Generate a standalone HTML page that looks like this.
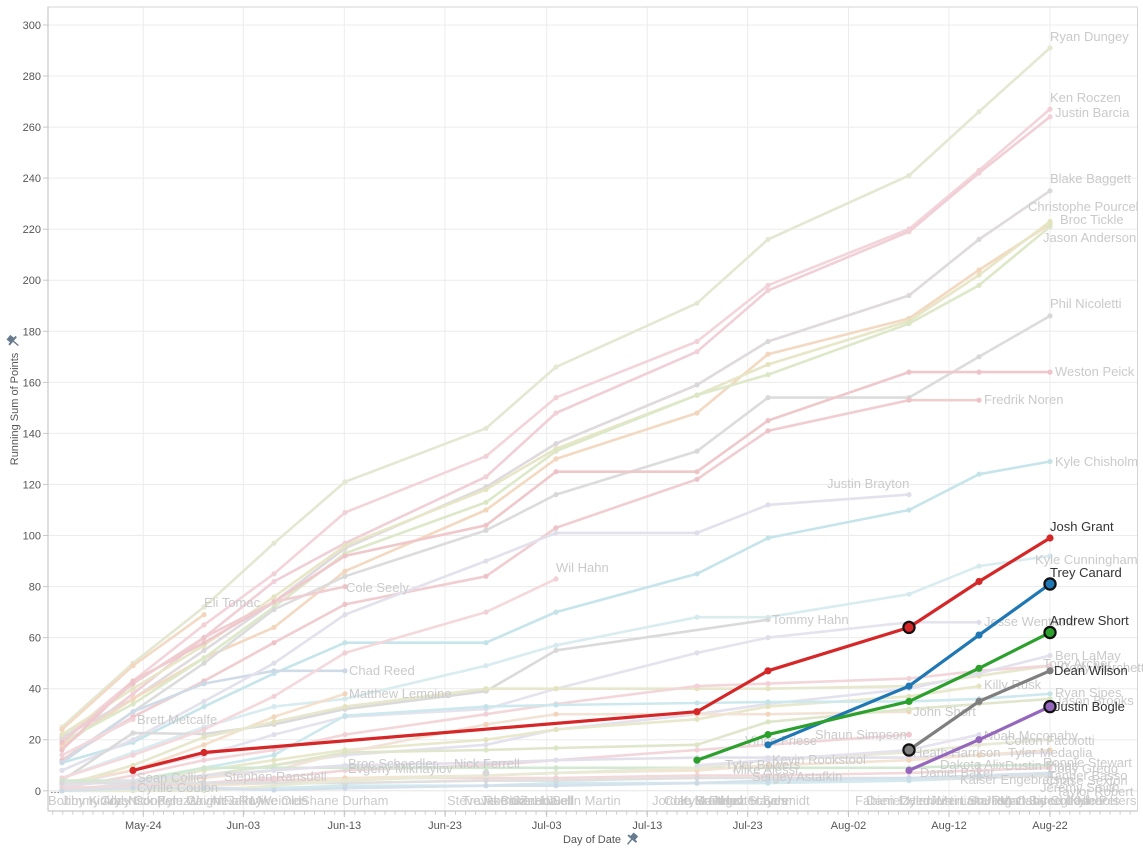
<!DOCTYPE html>
<html><head><meta charset="utf-8">
<style>
html,body{margin:0;padding:0;background:#fff;}
svg{display:block;font-family:"Liberation Sans",Arial,sans-serif;}
.f{fill:none;stroke-width:2.6;stroke-linejoin:round;stroke-linecap:round;}
.h{fill:none;stroke-width:3.2;stroke-linejoin:round;stroke-linecap:round;}
.fl{font-size:13px;fill:#cacaca;}
.hl{font-size:13px;fill:#333;}
.tk{font-size:11px;fill:#555;}
</style></head>
<body>
<svg width="1143" height="849" viewBox="0 0 1143 849" xmlns="http://www.w3.org/2000/svg">
<defs>
<marker id="m1" viewBox="0 0 6 6" refX="3" refY="3" markerWidth="6" markerHeight="6" markerUnits="userSpaceOnUse"><circle cx="3" cy="3" r="2.6" fill="#e4e8d2"/></marker>
<marker id="m2" viewBox="0 0 6 6" refX="3" refY="3" markerWidth="6" markerHeight="6" markerUnits="userSpaceOnUse"><circle cx="3" cy="3" r="2.6" fill="#f1d0d7"/></marker>
<marker id="m3" viewBox="0 0 6 6" refX="3" refY="3" markerWidth="6" markerHeight="6" markerUnits="userSpaceOnUse"><circle cx="3" cy="3" r="2.6" fill="#dcd7db"/></marker>
<marker id="m4" viewBox="0 0 6 6" refX="3" refY="3" markerWidth="6" markerHeight="6" markerUnits="userSpaceOnUse"><circle cx="3" cy="3" r="2.6" fill="#f2d5bb"/></marker>
<marker id="m5" viewBox="0 0 6 6" refX="3" refY="3" markerWidth="6" markerHeight="6" markerUnits="userSpaceOnUse"><circle cx="3" cy="3" r="2.6" fill="#e4e3bf"/></marker>
<marker id="m6" viewBox="0 0 6 6" refX="3" refY="3" markerWidth="6" markerHeight="6" markerUnits="userSpaceOnUse"><circle cx="3" cy="3" r="2.6" fill="#dae6c4"/></marker>
<marker id="m7" viewBox="0 0 6 6" refX="3" refY="3" markerWidth="6" markerHeight="6" markerUnits="userSpaceOnUse"><circle cx="3" cy="3" r="2.6" fill="#d8d8d8"/></marker>
<marker id="m8" viewBox="0 0 6 6" refX="3" refY="3" markerWidth="6" markerHeight="6" markerUnits="userSpaceOnUse"><circle cx="3" cy="3" r="2.6" fill="#edc3c7"/></marker>
<marker id="m9" viewBox="0 0 6 6" refX="3" refY="3" markerWidth="6" markerHeight="6" markerUnits="userSpaceOnUse"><circle cx="3" cy="3" r="2.6" fill="#c3e3e9"/></marker>
<marker id="m10" viewBox="0 0 6 6" refX="3" refY="3" markerWidth="6" markerHeight="6" markerUnits="userSpaceOnUse"><circle cx="3" cy="3" r="2.6" fill="#cbd9e7"/></marker>
<marker id="m11" viewBox="0 0 6 6" refX="3" refY="3" markerWidth="6" markerHeight="6" markerUnits="userSpaceOnUse"><circle cx="3" cy="3" r="2.6" fill="#e0deea"/></marker>
<marker id="m12" viewBox="0 0 6 6" refX="3" refY="3" markerWidth="6" markerHeight="6" markerUnits="userSpaceOnUse"><circle cx="3" cy="3" r="2.6" fill="#d5eaee"/></marker>
<marker id="m13" viewBox="0 0 6 6" refX="3" refY="3" markerWidth="6" markerHeight="6" markerUnits="userSpaceOnUse"><circle cx="3" cy="3" r="2.6" fill="#cfe5cd"/></marker>
</defs>

<rect x="0" y="0" width="1143" height="849" fill="#fff"/>

<!-- gridlines -->
<g stroke="#ececec" stroke-width="1">
<line x1="48" y1="739.7" x2="1137" y2="739.7"/>
<line x1="48" y1="688.7" x2="1137" y2="688.7"/>
<line x1="48" y1="637.6" x2="1137" y2="637.6"/>
<line x1="48" y1="586.6" x2="1137" y2="586.6"/>
<line x1="48" y1="535.5" x2="1137" y2="535.5"/>
<line x1="48" y1="484.4" x2="1137" y2="484.4"/>
<line x1="48" y1="433.4" x2="1137" y2="433.4"/>
<line x1="48" y1="382.4" x2="1137" y2="382.4"/>
<line x1="48" y1="331.3" x2="1137" y2="331.3"/>
<line x1="48" y1="280.2" x2="1137" y2="280.2"/>
<line x1="48" y1="229.2" x2="1137" y2="229.2"/>
<line x1="48" y1="178.1" x2="1137" y2="178.1"/>
<line x1="48" y1="127.1" x2="1137" y2="127.1"/>
<line x1="48" y1="76" x2="1137" y2="76"/>
<line x1="48" y1="25" x2="1137" y2="25"/>
<line x1="143.3" y1="7" x2="143.3" y2="811"/>
<line x1="243.3" y1="7" x2="243.3" y2="811"/>
<line x1="344.3" y1="7" x2="344.3" y2="811"/>
<line x1="445" y1="7" x2="445" y2="811"/>
<line x1="546.7" y1="7" x2="546.7" y2="811"/>
<line x1="647.3" y1="7" x2="647.3" y2="811"/>
<line x1="747.7" y1="7" x2="747.7" y2="811"/>
<line x1="848.5" y1="7" x2="848.5" y2="811"/>
<line x1="949" y1="7" x2="949" y2="811"/>
<line x1="1050" y1="7" x2="1050" y2="811"/>
</g>
<line x1="48" y1="790.8" x2="1137" y2="790.8" stroke="#e6e6e6" stroke-width="1"/>

<!-- faded series -->
<g class="fades">
<polyline class="f" stroke="#e4e8d2" marker-start="url(#m1)" marker-mid="url(#m1)" marker-end="url(#m1)" points="62,727 133,663.2 204,607 274,543.2 345,481.9 486,428.3 556,367 697,303.2 768,239.4 909,175.5 979,111.7 1050,47.9"/>
<polyline class="f" stroke="#f3d4da" marker-start="url(#m2)" marker-mid="url(#m2)" marker-end="url(#m2)" points="62,739.7 133,681 204,624.9 274,573.8 345,512.5 486,456.3 556,397.6 697,341.5 768,285.3 909,229.1 979,170.4 1050,109.1"/>
<polyline class="f" stroke="#f1cfd7" marker-start="url(#m2)" marker-mid="url(#m2)" marker-end="url(#m2)" points="62,747.4 133,693.8 204,637.6 274,581.5 345,543.2 486,476.8 556,413 697,351.7 768,290.4 909,231.7 979,173 1050,116.8"/>
<polyline class="f" stroke="#dedadd" marker-start="url(#m3)" marker-mid="url(#m3)" marker-end="url(#m3)" points="62,737.2 133,698.9 204,650.4 274,601.9 345,548.3 486,487 556,443.6 697,384.9 768,341.5 909,295.5 979,239.4 1050,190.8"/>
<polyline class="f" stroke="#f3d9c2" marker-start="url(#m4)" marker-mid="url(#m4)" marker-end="url(#m4)" points="62,744.8 133,698.9 204,658 274,627.4 345,571.2 486,510 556,458.9 697,413 768,354.2 909,318.5 979,270 1050,224"/>
<polyline class="f" stroke="#e7e6c6" marker-start="url(#m5)" marker-mid="url(#m5)" marker-end="url(#m5)" points="62,734.6 133,688.7 204,645.3 274,596.8 345,545.7 486,489.5 556,448.7 697,395.1 768,364.5 909,321 979,275.1 1050,221.5"/>
<polyline class="f" stroke="#dde8c9" marker-start="url(#m6)" marker-mid="url(#m6)" marker-end="url(#m6)" points="62,742.3 133,704 204,658 274,607 345,553.4 486,502.3 556,451.2 697,395.1 768,374.7 909,323.6 979,285.3 1050,226.6"/>
<polyline class="f" stroke="#dcdcdc" marker-start="url(#m7)" marker-mid="url(#m7)" marker-end="url(#m7)" points="62,760.2 133,711.7 204,663.2 274,609.5 345,576.3 486,530.4 556,494.6 697,451.2 768,397.6 909,397.6 979,356.8 1050,315.9"/>
<polyline class="f" stroke="#efc8cc" marker-start="url(#m8)" marker-mid="url(#m8)" marker-end="url(#m8)" points="62,750 133,681 204,642.7 274,601.9 345,555.9 486,525.3 556,471.7 697,471.7 768,420.6 909,372.1 979,372.1 1050,372.1"/>
<polyline class="f" stroke="#f0cdd0" marker-start="url(#m8)" marker-mid="url(#m8)" marker-end="url(#m8)" points="62,760.2 133,716.8 204,681 274,642.7 345,604.4 486,576.3 556,527.8 697,479.3 768,430.8 909,400.2 979,400.2"/>
<polyline class="f" stroke="#c6e5ea" marker-start="url(#m9)" marker-mid="url(#m9)" marker-end="url(#m9)" points="62,762.7 133,742.3 204,706.6 274,673.4 345,642.7 486,642.7 556,612.1 697,573.8 768,538 909,510 979,474.2 1050,461.5"/>
<polyline class="f" stroke="#cfdce8" marker-start="url(#m10)" marker-mid="url(#m10)" marker-end="url(#m10)" points="62,762.7 133,711.7 204,683.6 274,670.8 345,670.8"/>
<polyline class="f" stroke="#e3e1eb" marker-start="url(#m11)" marker-mid="url(#m11)" marker-end="url(#m11)" points="62,770.4 133,739.7 204,701.4 274,663.2 345,614.6 486,561 556,532.9 697,532.9 768,504.9 909,494.6"/>
<polyline class="f" stroke="#d9ecef" marker-start="url(#m12)" marker-mid="url(#m12)" marker-end="url(#m12)" points="62,778 133,752.5 204,727 274,706.6 345,698.9 486,665.7 556,645.3 697,617.2 768,617.2 909,594.2 979,566.1 1050,555.9"/>
<polyline class="f" stroke="#dadada" marker-start="url(#m7)" marker-mid="url(#m7)" marker-end="url(#m7)" points="62,780.6 133,733 204,734 274,724.4 345,709.1 486,691.2 556,650.4 768,619.7"/>
<polyline class="f" stroke="#e5e3ed" marker-start="url(#m11)" marker-mid="url(#m11)" marker-end="url(#m11)" points="62,785.7 133,770.4 204,755.1 274,734.6 345,716.8 486,709.1 556,688.7 697,652.9 768,637.6 909,622.3 979,622.3"/>
<polyline class="f" stroke="#f4d8dc" marker-start="url(#m2)" marker-mid="url(#m2)" marker-end="url(#m2)" points="62,778 133,755.1 204,729.5 274,696.3 345,652.9 486,612.1 556,578.9"/>
<polyline class="f" stroke="#f3dac4" marker-start="url(#m4)" marker-mid="url(#m4)" marker-end="url(#m4)" points="62,729.5 133,665.7 204,614.6"/>
<polyline class="f" stroke="#efcdd0" marker-start="url(#m8)" marker-mid="url(#m8)" marker-end="url(#m8)" points="62,742.3 133,683.6 204,637.6 274,601.9 345,586.6"/>
<polyline class="f" stroke="#f4e0cc" marker-start="url(#m4)" marker-mid="url(#m4)" marker-end="url(#m4)" points="62,783.1 133,770.4 204,744.8 274,716.8 345,693.8"/>
<polyline class="f" stroke="#f3d8dc" marker-start="url(#m2)" marker-mid="url(#m2)" marker-end="url(#m2)" points="62,755.1 133,719.3"/>
<polyline class="f" stroke="#e6e7cc" marker-start="url(#m5)" marker-mid="url(#m5)" marker-end="url(#m5)" points="62,785.7 133,765.3 204,737.2 274,721.9 345,706.6 486,688.7 556,688.7 697,688.7 768,688.7 909,686.1 979,675.9 1050,665.7"/>
<polyline class="f" stroke="#f3d6d9" marker-start="url(#m2)" marker-mid="url(#m2)" marker-end="url(#m2)" points="62,788.2 133,775.5 204,760.2 274,750 345,734.6 486,714.2 556,704 697,686.1 768,683.6 909,678.5 979,670.8 1050,665.7"/>
<polyline class="f" stroke="#e4e1ee" marker-start="url(#m11)" marker-mid="url(#m11)" marker-end="url(#m11)" points="62,790.8 133,785.7 204,775.5 274,765.3 345,755.1 486,744.8 556,729.5 697,714.2 768,704 909,688.7 979,673.4 1050,655.5"/>
<polyline class="f" stroke="#e8e8cc" marker-start="url(#m5)" marker-mid="url(#m5)" marker-end="url(#m5)" points="62,790.8 133,783.1 204,770.4 274,760.2 345,750 486,739.7 556,729.5 697,719.3 768,706.6 909,696.3 979,686.1"/>
<polyline class="f" stroke="#cde9ee" marker-start="url(#m9)" marker-mid="url(#m9)" marker-end="url(#m9)" points="62,790.8 133,783.1 204,767.8 274,755.1 345,715.7 486,706.6 556,705 697,703 768,702 909,701.4 979,698.9 1050,693.8"/>
<polyline class="f" stroke="#f3e3d6" marker-start="url(#m4)" marker-mid="url(#m4)" marker-end="url(#m4)" points="62,790.8 133,785.7 204,778 274,770.4 345,752.5 486,724.4 556,714.2 697,714.2 768,714.2 909,711.7"/>
<polyline class="f" stroke="#e0e6cc" marker-start="url(#m6)" marker-mid="url(#m6)" marker-end="url(#m6)" points="62,790.8 133,785.7 204,775.5 274,765.3 345,752.5 486,750 556,748 697,744.8 768,721.9 909,709.1 979,704 1050,698.9"/>
<polyline class="f" stroke="#f3d6da" marker-start="url(#m2)" marker-mid="url(#m2)" marker-end="url(#m2)" points="62,790.8 133,788.2 204,783.1 274,778 345,770.4 486,765.3 556,760.2 697,750 768,744.8 909,734.6"/>
<polyline class="f" stroke="#d3e8d2" marker-start="url(#m13)" marker-mid="url(#m13)" marker-end="url(#m13)" points="62,780.6 133,780.6 204,767.8 274,767.8 345,767.8 486,767.8 556,767.8 697,767.8 768,767.8 909,767.8 979,765.3 1050,765.3"/>
<polyline class="f" stroke="#e3e0ec" stroke-width="4" marker-start="url(#m11)" marker-mid="url(#m11)" marker-end="url(#m11)" points="62,785.7 133,780.6 204,775.5 274,770.4 345,765.3 486,762.7 556,760.2 697,757.6 768,757.6 909,757.6 979,755.1 1050,752.5"/>
<polyline class="f" stroke="#f3d8da" marker-start="url(#m2)" marker-mid="url(#m2)" marker-end="url(#m2)" points="62,788.2 133,785.7 204,783.1 274,780.6 345,778 486,778 556,778 697,775.5 768,775.5 909,772.9 979,770.4 1050,767.8"/>
<polyline class="f" stroke="#d2e9ee" marker-start="url(#m9)" marker-mid="url(#m9)" marker-end="url(#m9)" points="62,790.8 133,790.8 204,788.2 274,788.2 345,785.7 486,785.7 556,783.1 697,783.1 768,783.1 909,780.6 979,778 1050,775.5"/>
<polyline class="f" stroke="#f4e4d4" marker-start="url(#m4)" marker-mid="url(#m4)" marker-end="url(#m4)" points="62,790.8 133,788.2 204,785.7 274,783.1 345,778 486,775.5 556,772.9 697,770.4 768,765.3 909,760.2 979,755.1 1050,750"/>
<polyline class="f" stroke="#e0e0e0" marker-start="url(#m7)" marker-mid="url(#m7)" marker-end="url(#m7)" points="62,783.1 133,783.1 204,783.1 274,783.1 345,783.1 486,780.6 556,780.6 697,778 768,778 909,778 979,778 1050,775.5"/>
<polyline class="f" stroke="#e8ead6" marker-start="url(#m1)" marker-mid="url(#m1)" marker-end="url(#m1)" points="62,790.8 133,790.8 204,790.8 274,785.7 345,780.6 486,775.5 556,772.9 697,767.8 768,760.2 909,752.5 979,744.8 1050,739.7"/>
<polyline class="f" stroke="#e6e2ee" marker-start="url(#m11)" marker-mid="url(#m11)" marker-end="url(#m11)" points="697,765.3 768,760.2 909,750 979,734.6"/>
<polyline class="f" stroke="#d5e2ec" marker-start="url(#m10)" marker-mid="url(#m10)" marker-end="url(#m10)" points="62,790.8 133,788.2 204,788.2 274,790 345,788.2 486,785.7 556,785.7 697,783.1 768,780.6 909,778 979,775.5 1050,772.9"/>
<circle cx="486" cy="773" r="3.5" fill="#d8d8d8"/>
<circle cx="909" cy="734.6" r="3" fill="#f0c9cf"/>
</g>

<!-- axes frame -->
<rect x="48" y="7" width="1089.5" height="804" fill="none" stroke="#d4d4d4" stroke-width="1"/>
<line x1="48" y1="7" x2="48" y2="811" stroke="#c8c8c8" stroke-width="1.2"/>
<line x1="48" y1="811" x2="1137" y2="811" stroke="#c8c8c8" stroke-width="1.2"/>
<!-- y ticks -->
<g stroke="#c8c8c8" stroke-width="1">
<line x1="43" y1="790.8" x2="48" y2="790.8"/><line x1="43" y1="739.7" x2="48" y2="739.7"/><line x1="43" y1="688.7" x2="48" y2="688.7"/><line x1="43" y1="637.6" x2="48" y2="637.6"/><line x1="43" y1="586.6" x2="48" y2="586.6"/><line x1="43" y1="535.5" x2="48" y2="535.5"/><line x1="43" y1="484.4" x2="48" y2="484.4"/><line x1="43" y1="433.4" x2="48" y2="433.4"/><line x1="43" y1="382.4" x2="48" y2="382.4"/><line x1="43" y1="331.3" x2="48" y2="331.3"/><line x1="43" y1="280.2" x2="48" y2="280.2"/><line x1="43" y1="229.2" x2="48" y2="229.2"/><line x1="43" y1="178.1" x2="48" y2="178.1"/><line x1="43" y1="127.1" x2="48" y2="127.1"/><line x1="43" y1="76" x2="48" y2="76"/><line x1="43" y1="25" x2="48" y2="25"/>
</g>
<!-- x ticks -->
<line x1="52.2" y1="813" x2="1137" y2="813" stroke="#cfcfcf" stroke-width="3.5" stroke-dasharray="1 9.07"/>
<g stroke="#c4c4c4" stroke-width="1">
<line x1="143.3" y1="811" x2="143.3" y2="817"/><line x1="243.3" y1="811" x2="243.3" y2="817"/><line x1="344.3" y1="811" x2="344.3" y2="817"/><line x1="445" y1="811" x2="445" y2="817"/><line x1="546.7" y1="811" x2="546.7" y2="817"/><line x1="647.3" y1="811" x2="647.3" y2="817"/><line x1="747.7" y1="811" x2="747.7" y2="817"/><line x1="848.5" y1="811" x2="848.5" y2="817"/><line x1="949" y1="811" x2="949" y2="817"/><line x1="1050" y1="811" x2="1050" y2="817"/>
</g>

<!-- y tick labels -->
<g class="tk" text-anchor="end">
<text x="41" y="794.8">0</text>
<text x="41" y="743.7">20</text>
<text x="41" y="692.7">40</text>
<text x="41" y="641.6">60</text>
<text x="41" y="590.6">80</text>
<text x="41" y="539.5">100</text>
<text x="41" y="488.4">120</text>
<text x="41" y="437.4">140</text>
<text x="41" y="386.4">160</text>
<text x="41" y="335.3">180</text>
<text x="41" y="284.2">200</text>
<text x="41" y="233.2">220</text>
<text x="41" y="182.1">240</text>
<text x="41" y="131.1">260</text>
<text x="41" y="80">280</text>
<text x="41" y="29">300</text>
</g>
<!-- x tick labels -->
<g class="tk" text-anchor="middle">
<text x="143.3" y="829">May-24</text>
<text x="243.3" y="829">Jun-03</text>
<text x="344.3" y="829">Jun-13</text>
<text x="445" y="829">Jun-23</text>
<text x="546.7" y="829">Jul-03</text>
<text x="647.3" y="829">Jul-13</text>
<text x="747.7" y="829">Jul-23</text>
<text x="848.5" y="829">Aug-02</text>
<text x="949" y="829">Aug-12</text>
<text x="1050" y="829">Aug-22</text>
</g>
<text class="tk" x="592" y="843" text-anchor="middle">Day of Date</text>
<g transform="translate(632,839) rotate(40)" fill="#687a8e">
<rect x="-3" y="-6" width="6" height="5"/><rect x="-5.5" y="-1.5" width="11" height="2"/><rect x="-0.7" y="0" width="1.4" height="7"/>
</g>
<text class="tk" transform="translate(18,409) rotate(-90)" text-anchor="middle" style="font-size:11px">Running Sum of Points</text>
<g transform="translate(13,341) rotate(-50)" fill="#687a8e">
<rect x="-3" y="-6" width="6" height="5"/><rect x="-5.5" y="-1.5" width="11" height="2"/><rect x="-0.7" y="0" width="1.4" height="7"/>
</g>
<text x="50" y="793" style="font-size:10px;fill:#444">…</text>

<!-- faded labels -->
<g class="fl">
<text x="1050" y="41">Ryan Dungey</text>
<text x="1050" y="102">Ken Roczen</text>
<text x="1055" y="117">Justin Barcia</text>
<text x="1050" y="183">Blake Baggett</text>
<text x="1028" y="211">Christophe Pourcel</text>
<text x="1060" y="224">Broc Tickle</text>
<text x="1043" y="242">Jason Anderson</text>
<text x="1050" y="308">Phil Nicoletti</text>
<text x="1055" y="376">Weston Peick</text>
<text x="984" y="404">Fredrik Noren</text>
<text x="1055" y="466">Kyle Chisholm</text>
<text x="827" y="488">Justin Brayton</text>
<text x="1035" y="564">Kyle Cunningham</text>
<text x="772" y="624">Tommy Hahn</text>
<text x="984" y="626">Jesse Wentland</text>
<text x="556" y="572">Wil Hahn</text>
<text x="204" y="607">Eli Tomac</text>
<text x="346" y="592">Cole Seely</text>
<text x="349" y="675">Chad Reed</text>
<text x="349" y="698">Matthew Lemoine</text>
<text x="137" y="724">Brett Metcalfe</text>
<text x="137" y="782">Sean Collier</text>
<text x="137" y="792">Cyrille Coulon</text>
<text x="224" y="781">Stephen Ransdell</text>
<text x="348" y="768">Broc Schoedler</text>
<text x="348" y="773">Evgeny Mikhaylov</text>
<text x="454" y="768">Nick Ferrell</text>
<text x="1055" y="660">Ben LaMay</text>
<text x="1043" y="668">Tony Archer</text>
<text x="1060" y="672">Cody Marchette</text>
<text x="984" y="689">Killy Rusk</text>
<text x="1055" y="697">Ryan Sipes</text>
<text x="1055" y="705">Jason Brooks</text>
<text x="913" y="716">John Short</text>
<text x="815" y="739">Shaun Simpson</text>
<text x="745" y="745">Vince Friese</text>
<text x="984" y="740">Noah Mcconahy</text>
<text x="1005" y="745">Colton Facciotti</text>
<text x="913" y="757">Heath Harrison</text>
<text x="1008" y="757">Tyler Medaglia</text>
<text x="772" y="764">Kevin Rookstool</text>
<text x="725" y="769">Tyler Bowers</text>
<text x="733" y="774">Mike Alessi</text>
<text x="752" y="781">Sergey Astafkin</text>
<text x="940" y="769">Dakota Alix</text>
<text x="1005" y="770">Dustin Pipes</text>
<text x="920" y="777">Daniel Baker</text>
<text x="960" y="784">Kaiser Engebretson</text>
<text x="1043" y="767">Ronnie Stewart</text>
<text x="1048" y="773">Cody Gregg</text>
<text x="1048" y="780">Tanner Basso</text>
<text x="1046" y="785">Chase Sexton</text>
<text x="1040" y="792">Jeremy Smith</text>
<text x="1056" y="796">Taylor Robert</text>
<!-- bottom row -->
<text x="48" y="805">Bobby Kiniry</text>
<text x="62" y="805">Jimmy Albertson</text>
<text x="100" y="805">Cody Cooper</text>
<text x="128" y="805">Nick Paluzzi</text>
<text x="158" y="805">Kyle Wright</text>
<text x="186" y="805">Gavin Faith</text>
<text x="210" y="805">Alex Ray</text>
<text x="228" y="805">Jake Weimer</text>
<text x="250" y="805">Mike Olds</text>
<text x="301" y="805">Shane Durham</text>
<text x="447" y="805">Steve Roman</text>
<text x="462" y="805">Travis Baker</text>
<text x="480" y="805">Jake Canada</text>
<text x="500" y="805">Chris Howell</text>
<text x="520" y="805">Zach Bell</text>
<text x="547" y="805">Justin Martin</text>
<text x="652" y="805">Jordan Smith</text>
<text x="664" y="805">Cole Martinez</text>
<text x="680" y="805">Kyle Regal</text>
<text x="695" y="805">Brandon Scharer</text>
<text x="712" y="805">Jacob Hayes</text>
<text x="720" y="805">Hunter Schmidt</text>
<text x="855" y="805">Fabien Izoird</text>
<text x="866" y="805">Daniel Herrlein</text>
<text x="900" y="805">Dylan Merriam</text>
<text x="930" y="805">Justin Starling</text>
<text x="960" y="805">Luke Renzland</text>
<text x="985" y="805">Josh Osby</text>
<text x="1000" y="805">Matt Bisceglia</text>
<text x="1030" y="805">Jared Lesher</text>
<text x="1050" y="805">Colt Nichols</text>
<text x="1070" y="805">Kyle Peters</text>
</g>

<!-- highlighted series -->
<polyline class="h" stroke="#d62728" points="133,770.4 204,752.5 697,711.7 768,670.8 909,627.4 979,581.5 1050,538"/>
<polyline class="h" stroke="#1f77b4" points="768,744.8 909,686.1 979,635.1 1050,584"/>
<polyline class="h" stroke="#2ca02c" points="697,760.2 768,734.6 909,701.4 979,668.3 1050,632.5"/>
<polyline class="h" stroke="#7f7f7f" points="909,750 979,701.4 1050,670.8"/>
<polyline class="h" stroke="#9467bd" points="909,770.4 979,739.7 1050,706.6"/>
<g fill="#d62728">
<circle cx="133" cy="770.4" r="3.6"/><circle cx="204" cy="752.5" r="3.6"/><circle cx="697" cy="711.7" r="3.6"/><circle cx="768" cy="670.8" r="3.6"/><circle cx="979" cy="581.5" r="3.6"/><circle cx="1050" cy="538" r="3.6"/>
</g>
<g fill="#1f77b4">
<circle cx="768" cy="744.8" r="3.6"/><circle cx="909" cy="686.1" r="3.6"/><circle cx="979" cy="635.1" r="3.6"/>
</g>
<g fill="#2ca02c">
<circle cx="697" cy="760.2" r="3.6"/><circle cx="768" cy="734.6" r="3.6"/><circle cx="909" cy="701.4" r="3.6"/><circle cx="979" cy="668.3" r="3.6"/>
</g>
<g fill="#7f7f7f">
<circle cx="979" cy="701.4" r="3.6"/><circle cx="1050" cy="670.8" r="3.6"/>
</g>
<g fill="#9467bd">
<circle cx="909" cy="770.4" r="3.6"/><circle cx="979" cy="739.7" r="3.6"/>
</g>
<g stroke="#111" stroke-width="2.2">
<circle cx="909" cy="627.4" r="5.6" fill="#d62728"/>
<circle cx="1050" cy="584" r="5.6" fill="#1f77b4"/>
<circle cx="1050" cy="632.5" r="5.6" fill="#2ca02c"/>
<circle cx="909" cy="750" r="5.6" fill="#7f7f7f"/>
<circle cx="1050" cy="706.6" r="5.6" fill="#9467bd"/>
</g>

<!-- highlighted labels -->
<g class="hl">
<text x="1050" y="531">Josh Grant</text>
<text x="1050" y="577">Trey Canard</text>
<text x="1050" y="625">Andrew Short</text>
<text x="1054" y="675">Dean Wilson</text>
<text x="1054" y="711">Justin Bogle</text>
</g>
</svg>
</body></html>
